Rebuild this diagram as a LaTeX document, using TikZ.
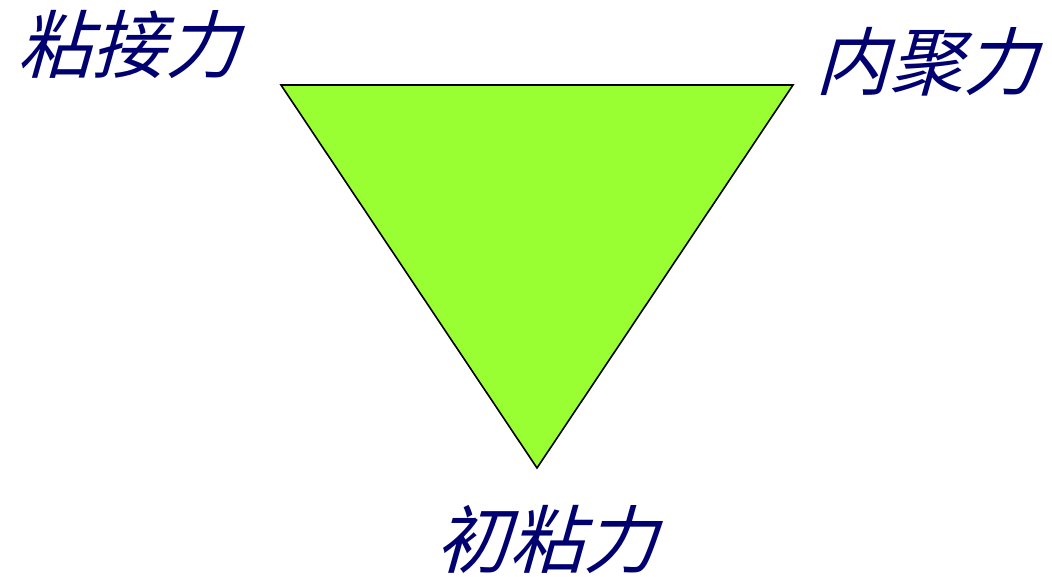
\documentclass[tikz,border=0pt]{standalone}
\usepackage{fontspec}
\newfontfamily\cjk[FakeSlant=0.28]{Noto Sans CJK SC}
\definecolor{labnavy}{HTML}{000070}
\definecolor{trigreen}{HTML}{99FF33}
\begin{document}
\begin{tikzpicture}[x=1pt,y=-1pt,
  lab/.style={font=\cjk\fontsize{74}{74}\selectfont, text=labnavy, inner sep=0pt, anchor=center},
  tri/.style={fill=trigreen, draw=black, line width=1.6pt, line join=miter}]
\useasboundingbox (0,0) rectangle (1052,577);
\coordinate (tl) at (281,85);
\coordinate (tr) at (793,85);
\coordinate (bt) at (537,468);
\draw[tri] (tl) -- (tr) -- (bt) -- cycle;
\node[lab] (a) at (128,45) {粘接力};
\node[lab] (b) at (926,62) {内聚力};
\node[lab] (c) at (546,540) {初粘力};
\end{tikzpicture}
\end{document}
